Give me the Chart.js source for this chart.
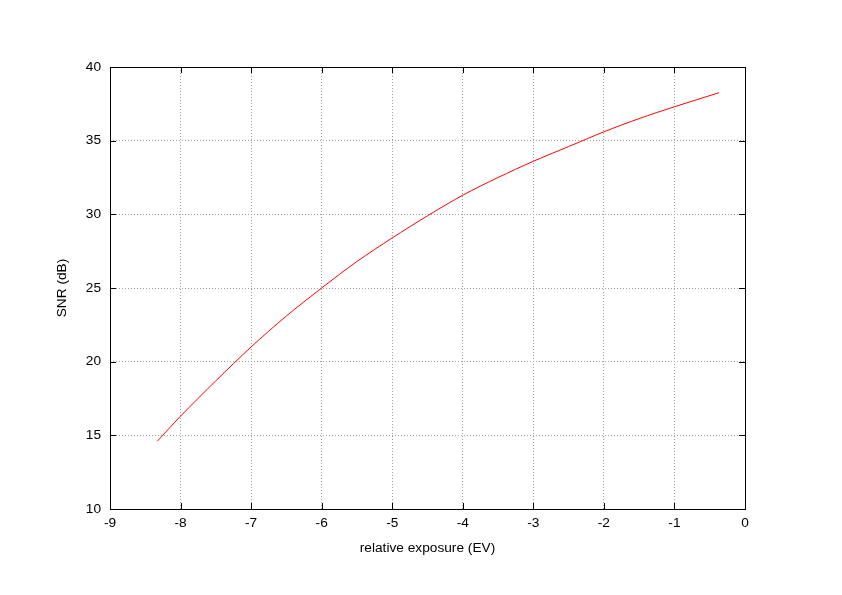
<!DOCTYPE html>
<html>
<head>
<meta charset="utf-8">
<script src="https://cdn.jsdelivr.net/npm/chart.js@4.4.1/dist/chart.umd.min.js"></script>
<style>
  html, body { margin: 0; padding: 0; background: #fff; }
  #wrap { width: 842px; height: 595px; }
</style>
</head>
<body>
<div id="wrap"><canvas id="snrChart" width="842" height="595"></canvas></div>
<script>
// relative exposure (EV) and SNR (dB)
const exposure = [-8.33, -8.0, -7.5, -7.0, -6.5, -6.0, -5.5, -5.0, -4.5, -4.0, -3.5, -3.0, -2.5, -2.0, -1.5, -1.0, -0.37];
const snr = [14.6, 16.3, 18.7, 21.0, 23.1, 25.0, 26.8, 28.4, 29.9, 31.3, 32.5, 33.6, 34.6, 35.6, 36.5, 37.3, 38.25];
const xTicks = [-9, -8, -7, -6, -5, -4, -3, -2, -1, 0];
const yTicks = [10, 15, 20, 25, 30, 35, 40];

const fontFamily = '"Liberation Sans", Arial, Helvetica, sans-serif';
const fontSize = 13.7;

// gnuplot style frame: full border box and inward tick marks on all four sides
const framePlugin = {
    id: 'frame',
    afterDatasetsDraw(chart) {
        const ctx = chart.ctx;
        const a = chart.chartArea;
        const xs = chart.scales.x;
        const ys = chart.scales.y;
        const len = 6;
        ctx.save();
        ctx.strokeStyle = '#000';
        ctx.lineWidth = 1;
        ctx.beginPath();
        xTicks.forEach(v => {
            const px = Math.round(xs.getPixelForValue(v)) + 0.5;
            ctx.moveTo(px, a.bottom); ctx.lineTo(px, a.bottom - len);
            ctx.moveTo(px, a.top); ctx.lineTo(px, a.top + len);
        });
        yTicks.forEach(v => {
            const py = Math.round(ys.getPixelForValue(v)) + 0.5;
            ctx.moveTo(a.left, py); ctx.lineTo(a.left + len, py);
            ctx.moveTo(a.right, py); ctx.lineTo(a.right - len, py);
        });
        ctx.stroke();
        ctx.strokeRect(Math.round(a.left) + 0.5, Math.round(a.top) + 0.5,
            Math.round(a.right - a.left), Math.round(a.bottom - a.top));
        ctx.restore();
    }
};

const ctx = document.getElementById('snrChart').getContext('2d');
new Chart(ctx, {
    type: 'scatter',
    data: {
        datasets: [{
            data: exposure.map((x, i) => ({ x: x, y: snr[i] })),
            showLine: true,
            borderColor: '#ff0000',
            borderWidth: 1,
            pointRadius: 0,
            tension: 0.3
        }]
    },
    options: {
        responsive: false,
        animation: false,
        layout: { padding: { top: 67, right: 97, left: 0, bottom: 0 } },
        plugins: {
            legend: { display: false },
            tooltip: { enabled: false }
        },
        scales: {
            x: {
                type: 'linear',
                min: -9,
                max: 0,
                afterBuildTicks: s => { s.ticks = xTicks.map(v => ({ value: v })); },
                afterFit: s => { s.height = 86; },
                ticks: {
                    color: '#000',
                    padding: 6,
                    maxRotation: 0,
                    font: { family: fontFamily, size: fontSize }
                },
                grid: {
                    color: '#a0a0a0',
                    lineWidth: 1,
                    drawTicks: false
                },
                border: { display: false, dash: [1, 2] },
                title: {
                    display: true,
                    text: 'relative exposure (EV)',
                    color: '#000',
                    font: { family: fontFamily, size: fontSize },
                    padding: { top: 0, bottom: 39 }
                }
            },
            y: {
                type: 'linear',
                min: 10,
                max: 40,
                afterBuildTicks: s => { s.ticks = yTicks.map(v => ({ value: v })); },
                afterFit: s => { s.width = 110; },
                ticks: {
                    color: '#000',
                    padding: 9,
                    font: { family: fontFamily, size: fontSize }
                },
                grid: {
                    color: '#a0a0a0',
                    lineWidth: 1,
                    drawTicks: false
                },
                border: { display: false, dash: [1, 2] },
                title: {
                    display: true,
                    text: 'SNR (dB)',
                    color: '#000',
                    font: { family: fontFamily, size: fontSize },
                    padding: { top: 54, bottom: 0 }
                }
            }
        }
    },
    plugins: [framePlugin]
});
</script>
</body>
</html>
